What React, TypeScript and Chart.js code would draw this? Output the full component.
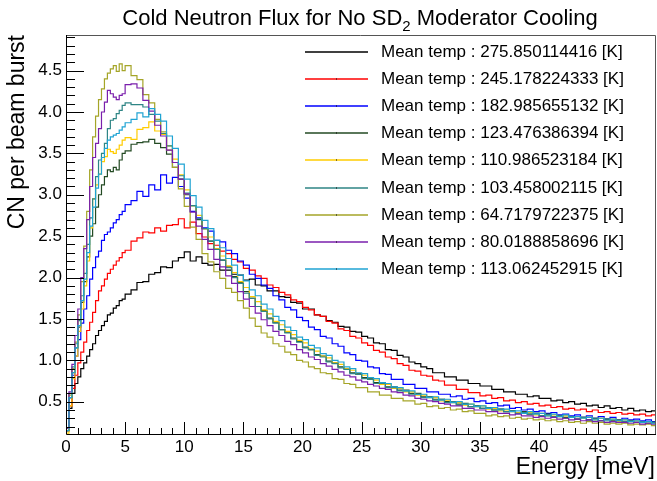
import React, { useEffect, useRef } from "react";
import { Chart, registerables } from "chart.js";

Chart.register(...registerables);

// Histogram binning (meV): 20 fine bins of 0.25 meV (0-5 meV), then 90 bins of 0.5 meV (5-50 meV)
const FINE_BINS = 20;
const FINE_WIDTH = 0.25;
const COARSE_WIDTH = 0.5;

const seriesLabels = [
  "Mean temp : 275.850114416 [K]",
  "Mean temp : 245.178224333 [K]",
  "Mean temp : 182.985655132 [K]",
  "Mean temp : 123.476386394 [K]",
  "Mean temp : 110.986523184 [K]",
  "Mean temp : 103.458002115 [K]",
  "Mean temp : 64.7179722375 [K]",
  "Mean temp : 80.0188858696 [K]",
  "Mean temp : 113.062452915 [K]",
];

const seriesColors = [
  "#000000",
  "#ff0000",
  "#0000ff",
  "#234a23",
  "#ffcc00",
  "#2e8585",
  "#a5a528",
  "#7a1fac",
  "#1fa3d3",
];

const temp275 = [
  0.15, 0.42, 0.60, 0.72, 0.80, 0.90, 0.97, 1.05, 1.13, 1.20,
  1.30, 1.36, 1.42, 1.47, 1.55, 1.57, 1.63, 1.66, 1.72, 1.74,
  1.80, 1.85, 1.94, 1.95, 2.04, 2.06, 2.13, 2.12, 2.20, 2.24,
  2.31, 2.20, 2.25, 2.17, 2.15, 2.16, 2.09, 2.09, 2.04, 2.03,
  1.97, 1.98, 1.91, 1.90, 1.84, 1.84, 1.77, 1.76, 1.70, 1.69,
  1.62, 1.62, 1.55, 1.53, 1.48, 1.46, 1.41, 1.40, 1.35, 1.34,
  1.29, 1.27, 1.21, 1.20, 1.13, 1.12, 1.06, 1.04, 0.98, 0.96,
  0.92, 0.90, 0.85, 0.85, 0.80, 0.80, 0.76, 0.76, 0.72, 0.72,
  0.69, 0.69, 0.65, 0.65, 0.62, 0.62, 0.59, 0.59, 0.56, 0.57,
  0.54, 0.54, 0.51, 0.52, 0.49, 0.50, 0.47, 0.48, 0.45, 0.46,
  0.43, 0.45, 0.42, 0.43, 0.40, 0.42, 0.39, 0.40, 0.38, 0.39,
];

const temp245 = [
  0.15, 0.45, 0.66, 0.82, 0.97, 1.10, 1.22, 1.36, 1.46, 1.58,
  1.72, 1.84, 1.90, 1.98, 2.05, 2.10, 2.15, 2.20, 2.24, 2.30,
  2.33, 2.44, 2.48, 2.55, 2.54, 2.60, 2.56, 2.63, 2.64, 2.71,
  2.60, 2.67, 2.53, 2.49, 2.41, 2.39, 2.32, 2.29, 2.22, 2.19,
  2.11, 2.09, 2.02, 1.99, 1.91, 1.88, 1.82, 1.79, 1.73, 1.71,
  1.64, 1.61, 1.55, 1.53, 1.47, 1.45, 1.38, 1.36, 1.29, 1.27,
  1.21, 1.18, 1.12, 1.10, 1.04, 1.02, 0.96, 0.94, 0.88, 0.87,
  0.82, 0.81, 0.76, 0.75, 0.70, 0.70, 0.65, 0.65, 0.61, 0.61,
  0.57, 0.58, 0.54, 0.55, 0.51, 0.52, 0.49, 0.50, 0.47, 0.48,
  0.45, 0.46, 0.43, 0.44, 0.41, 0.42, 0.40, 0.41, 0.38, 0.40,
  0.37, 0.38, 0.36, 0.37, 0.35, 0.36, 0.34, 0.35, 0.33, 0.34,
];

const temp183 = [
  0.18, 0.55, 0.82, 1.05, 1.25, 1.45, 1.62, 1.78, 1.98, 2.12,
  2.25, 2.32, 2.45, 2.52, 2.55, 2.60, 2.66, 2.70, 2.76, 2.80,
  2.88, 2.93, 3.04, 2.98, 3.12, 3.06, 3.24, 3.14, 3.21, 3.10,
  2.96, 2.80, 2.72, 2.60, 2.56, 2.45, 2.43, 2.33, 2.29, 2.20,
  2.15, 2.04, 1.99, 1.91, 1.87, 1.78, 1.73, 1.64, 1.61, 1.52,
  1.48, 1.40, 1.37, 1.29, 1.27, 1.20, 1.17, 1.09, 1.07, 1.00,
  0.99, 0.92, 0.91, 0.84, 0.83, 0.77, 0.77, 0.71, 0.71, 0.66,
  0.66, 0.62, 0.62, 0.59, 0.59, 0.56, 0.57, 0.53, 0.54, 0.50,
  0.51, 0.48, 0.49, 0.45, 0.46, 0.42, 0.43, 0.40, 0.41, 0.38,
  0.39, 0.36, 0.37, 0.34, 0.35, 0.33, 0.34, 0.31, 0.33, 0.30,
  0.32, 0.29, 0.31, 0.28, 0.30, 0.28, 0.29, 0.27, 0.28, 0.26,
];

const temp123 = [
  0.15, 0.55, 0.85, 1.15, 1.40, 1.70, 1.95, 2.25, 2.50, 2.65,
  2.85, 3.00, 3.12, 3.22, 3.30, 3.28, 3.33, 3.30, 3.42, 3.50,
  3.53, 3.61, 3.63, 3.64, 3.67, 3.62, 3.57, 3.49, 3.33, 3.19,
  3.00, 2.87, 2.70, 2.59, 2.44, 2.34, 2.21, 2.13, 2.01, 1.94,
  1.83, 1.75, 1.65, 1.60, 1.51, 1.46, 1.37, 1.34, 1.27, 1.23,
  1.16, 1.13, 1.07, 1.05, 0.99, 0.97, 0.92, 0.90, 0.85, 0.84,
  0.79, 0.78, 0.73, 0.73, 0.68, 0.68, 0.64, 0.64, 0.60, 0.60,
  0.56, 0.56, 0.53, 0.53, 0.50, 0.50, 0.47, 0.48, 0.44, 0.45,
  0.42, 0.43, 0.40, 0.41, 0.38, 0.39, 0.36, 0.38, 0.35, 0.36,
  0.33, 0.35, 0.32, 0.33, 0.31, 0.32, 0.29, 0.31, 0.28, 0.30,
  0.27, 0.29, 0.27, 0.28, 0.26, 0.27, 0.25, 0.26, 0.24, 0.25,
];

const temp111 = [
  0.12, 0.45, 0.78, 1.05, 1.35, 1.62, 1.90, 2.20, 2.60, 2.95,
  3.12, 3.25, 3.40, 3.46, 3.55, 3.52, 3.50, 3.55, 3.60, 3.66,
  3.69, 3.67, 3.79, 3.81, 3.88, 3.77, 3.73, 3.59, 3.43, 3.24,
  3.06, 2.87, 2.75, 2.59, 2.49, 2.35, 2.26, 2.14, 2.06, 1.95,
  1.88, 1.77, 1.71, 1.61, 1.56, 1.47, 1.43, 1.35, 1.31, 1.24,
  1.21, 1.14, 1.11, 1.05, 1.03, 0.97, 0.95, 0.90, 0.88, 0.83,
  0.82, 0.77, 0.76, 0.71, 0.71, 0.66, 0.66, 0.62, 0.62, 0.58,
  0.58, 0.55, 0.55, 0.51, 0.52, 0.49, 0.49, 0.46, 0.47, 0.44,
  0.45, 0.41, 0.42, 0.39, 0.40, 0.38, 0.37, 0.36, 0.37, 0.34,
  0.36, 0.33, 0.34, 0.32, 0.33, 0.31, 0.32, 0.30, 0.31, 0.28,
  0.30, 0.27, 0.29, 0.26, 0.28, 0.26, 0.27, 0.25, 0.26, 0.24,
];

const temp103 = [
  0.18, 0.60, 0.92, 1.20, 1.48, 1.78, 2.05, 2.40, 2.72, 2.95,
  3.22, 3.42, 3.50, 3.62, 3.80, 3.90, 3.92, 3.98, 4.02, 4.08,
  4.11, 4.09, 4.09, 4.06, 3.97, 3.89, 3.74, 3.59, 3.39, 3.23,
  3.02, 2.87, 2.71, 2.59, 2.44, 2.34, 2.21, 2.12, 2.00, 1.93,
  1.81, 1.75, 1.65, 1.59, 1.50, 1.45, 1.37, 1.33, 1.26, 1.22,
  1.15, 1.13, 1.06, 1.04, 0.98, 0.96, 0.91, 0.89, 0.84, 0.83,
  0.78, 0.77, 0.72, 0.72, 0.67, 0.67, 0.63, 0.63, 0.59, 0.59,
  0.55, 0.56, 0.52, 0.53, 0.49, 0.50, 0.46, 0.47, 0.44, 0.45,
  0.42, 0.43, 0.40, 0.41, 0.38, 0.39, 0.36, 0.37, 0.35, 0.36,
  0.33, 0.34, 0.32, 0.33, 0.30, 0.32, 0.29, 0.31, 0.28, 0.30,
  0.27, 0.29, 0.26, 0.28, 0.26, 0.27, 0.25, 0.26, 0.24, 0.25,
];

const temp65 = [
  0.18, 0.58, 0.90, 1.22, 1.55, 1.95, 2.38, 2.80, 3.30, 3.70,
  3.95, 4.15, 4.28, 4.40, 4.47, 4.52, 4.56, 4.49, 4.58, 4.50,
  4.56, 4.44, 4.39, 4.21, 4.11, 3.91, 3.76, 3.54, 3.33, 3.07,
  2.86, 2.61, 2.46, 2.29, 2.19, 2.07, 1.99, 1.87, 1.82, 1.72,
  1.63, 1.51, 1.41, 1.33, 1.28, 1.20, 1.17, 1.10, 1.07, 1.00,
  0.98, 0.92, 0.90, 0.85, 0.84, 0.78, 0.77, 0.72, 0.71, 0.67,
  0.67, 0.62, 0.62, 0.58, 0.58, 0.54, 0.54, 0.51, 0.51, 0.47,
  0.48, 0.44, 0.45, 0.42, 0.43, 0.40, 0.41, 0.38, 0.39, 0.36,
  0.36, 0.33, 0.34, 0.32, 0.33, 0.30, 0.31, 0.29, 0.30, 0.28,
  0.29, 0.27, 0.28, 0.26, 0.27, 0.25, 0.26, 0.24, 0.26, 0.24,
  0.25, 0.23, 0.24, 0.23, 0.24, 0.22, 0.23, 0.22, 0.23, 0.21,
];

const temp80 = [
  0.18, 0.62, 0.95, 1.30, 1.62, 2.00, 2.35, 2.70, 3.10, 3.45,
  3.62, 3.80, 4.00, 4.12, 4.26, 4.22, 4.18, 4.15, 4.20, 4.22,
  4.33, 4.34, 4.29, 4.14, 4.01, 3.84, 3.71, 3.54, 3.39, 3.19,
  3.01, 2.79, 2.62, 2.46, 2.34, 2.22, 2.13, 2.02, 1.93, 1.83,
  1.74, 1.65, 1.57, 1.49, 1.42, 1.35, 1.30, 1.23, 1.19, 1.13,
  1.09, 1.04, 1.01, 0.96, 0.93, 0.89, 0.86, 0.82, 0.80, 0.76,
  0.74, 0.71, 0.69, 0.66, 0.65, 0.62, 0.61, 0.58, 0.57, 0.54,
  0.53, 0.51, 0.50, 0.48, 0.47, 0.45, 0.45, 0.42, 0.42, 0.40,
  0.40, 0.38, 0.38, 0.36, 0.36, 0.34, 0.35, 0.33, 0.33, 0.31,
  0.32, 0.30, 0.31, 0.29, 0.30, 0.28, 0.29, 0.27, 0.28, 0.26,
  0.27, 0.25, 0.26, 0.25, 0.25, 0.24, 0.25, 0.23, 0.24, 0.23,
];

const temp113 = [
  0.15, 0.55, 0.85, 1.15, 1.42, 1.72, 1.98, 2.30, 2.62, 2.85,
  3.08, 3.25, 3.45, 3.56, 3.66, 3.70, 3.72, 3.74, 3.78, 3.82,
  3.87, 3.91, 3.99, 3.94, 4.04, 3.97, 3.89, 3.71, 3.56, 3.37,
  3.19, 2.99, 2.85, 2.69, 2.59, 2.45, 2.36, 2.23, 2.15, 2.03,
  1.96, 1.85, 1.78, 1.68, 1.62, 1.53, 1.48, 1.40, 1.36, 1.28,
  1.25, 1.18, 1.15, 1.08, 1.06, 1.00, 0.98, 0.92, 0.90, 0.85,
  0.84, 0.79, 0.78, 0.73, 0.72, 0.68, 0.67, 0.63, 0.63, 0.59,
  0.59, 0.55, 0.56, 0.52, 0.53, 0.49, 0.50, 0.47, 0.47, 0.44,
  0.45, 0.42, 0.43, 0.40, 0.41, 0.38, 0.39, 0.36, 0.38, 0.35,
  0.36, 0.33, 0.35, 0.32, 0.34, 0.31, 0.32, 0.30, 0.31, 0.28,
  0.30, 0.27, 0.29, 0.27, 0.28, 0.26, 0.27, 0.25, 0.26, 0.24,
];

const seriesValues = [temp275, temp245, temp183, temp123, temp111, temp103, temp65, temp80, temp113];

const xTickValues = [0, 5, 10, 15, 20, 25, 30, 35, 40, 45];
const yTickValues = [0.5, 1.0, 1.5, 2.0, 2.5, 3.0, 3.5, 4.0, 4.5];

const X_MIN = 0;
const X_MAX = 49.8;
const Y_MIN = 0.11;
const Y_MAX = 4.93;

const FONT = "'Liberation Sans', Arial, Helvetica, sans-serif";

function binLowEdge(i: number) {
  return i < FINE_BINS ? i * FINE_WIDTH : FINE_BINS * FINE_WIDTH + (i - FINE_BINS) * COARSE_WIDTH;
}

function histPoints(values: number[]) {
  const pts = values.map((v, i) => ({ x: binLowEdge(i), y: v }));
  pts.push({ x: binLowEdge(values.length), y: values[values.length - 1] });
  return pts;
}

const rootStylePlugin = {
  id: "rootStyle",
  afterDatasetsDraw(chart: any) {
    const { ctx, chartArea } = chart;
    const xs = chart.scales.x;
    const ys = chart.scales.y;
    const { left, right, top, bottom } = chartArea;
    ctx.save();
    // frame
    ctx.lineWidth = 1;
    ctx.strokeStyle = "#555555";
    ctx.beginPath();
    ctx.moveTo(left, top + 0.5);
    ctx.lineTo(right + 0.5, top + 0.5);
    ctx.lineTo(right + 0.5, bottom);
    ctx.stroke();
    ctx.strokeStyle = "#000000";
    ctx.beginPath();
    ctx.moveTo(left + 0.5, top);
    ctx.lineTo(left + 0.5, bottom + 0.5);
    ctx.lineTo(right + 1, bottom + 0.5);
    ctx.stroke();
    // x ticks (inward)
    ctx.beginPath();
    for (let v = 0; v <= X_MAX; v += 1) {
      const px = Math.round(xs.getPixelForValue(v)) + 0.5;
      const len = v % 5 === 0 ? 12 : 6;
      ctx.moveTo(px, bottom);
      ctx.lineTo(px, bottom - len);
    }
    // y ticks (inward)
    for (let k = 2; k <= 49; k++) {
      const v = k / 10;
      if (v < Y_MIN || v > Y_MAX) continue;
      const py = Math.round(ys.getPixelForValue(v)) + 0.5;
      const len = k % 5 === 0 ? 18 : 9;
      ctx.moveTo(left, py);
      ctx.lineTo(left + len, py);
    }
    ctx.stroke();

    // legend
    ctx.font = `17px ${FONT}`;
    ctx.textBaseline = "middle";
    ctx.textAlign = "left";
    seriesLabels.forEach((label, i) => {
      const y = Math.round(52 + i * 27.1);
      ctx.strokeStyle = seriesColors[i];
      ctx.lineWidth = 1.5;
      ctx.beginPath();
      ctx.moveTo(305, y);
      ctx.lineTo(368, y);
      ctx.stroke();
      if (i > 0) {
        ctx.fillStyle = "#000000";
        ctx.fillRect(336, y - 0.5, 1, 1);
      }
      ctx.fillStyle = "#000000";
      ctx.fillText(label, 381, y);
    });

    // main title with subscript
    const t1 = "Cold Neutron Flux for No SD";
    const t2 = "2";
    const t3 = " Moderator Cooling";
    ctx.font = `22px ${FONT}`;
    const w1 = ctx.measureText(t1).width;
    const w3 = ctx.measureText(t3).width;
    ctx.font = `15px ${FONT}`;
    const w2 = ctx.measureText(t2).width;
    const total = w1 + w2 + w3;
    const x0 = 360 - total / 2;
    ctx.textBaseline = "alphabetic";
    ctx.fillStyle = "#000000";
    ctx.font = `22px ${FONT}`;
    ctx.fillText(t1, x0, 25);
    ctx.font = `15px ${FONT}`;
    ctx.fillText(t2, x0 + w1, 31);
    ctx.font = `22px ${FONT}`;
    ctx.fillText(t3, x0 + w1 + w2, 25);
    ctx.restore();
  },
};

export default function App() {
  const canvasRef = useRef<HTMLCanvasElement | null>(null);

  useEffect(() => {
    document.body.style.margin = "0";
    const canvas = canvasRef.current;
    if (!canvas) return;
    const datasets = seriesValues.map((vals, i) => ({
      label: seriesLabels[i],
      data: histPoints(vals),
      borderColor: seriesColors[i],
      backgroundColor: seriesColors[i],
      borderWidth: 1.2,
      pointRadius: 0,
      stepped: "before" as const,
      fill: false,
      order: seriesValues.length - i,
    }));
    const chart = new Chart(canvas, {
      type: "line",
      data: { datasets },
      options: {
        animation: false,
        responsive: false,
        devicePixelRatio: 1,
        layout: { padding: { top: 35, right: 2, left: 0, bottom: 0 } },
        plugins: {
          legend: { display: false },
          tooltip: { enabled: false },
          title: { display: false },
        },
        scales: {
          x: {
            type: "linear",
            min: X_MIN,
            max: X_MAX,
            afterBuildTicks: (s: any) => {
              s.ticks = xTickValues.map((v) => ({ value: v }));
            },
            afterFit: (s: any) => {
              s.height = 47;
            },
            grid: { display: false, drawTicks: false },
            border: { display: false },
            ticks: {
              color: "#000000",
              font: { family: FONT, size: 17 },
              padding: 3,
              maxRotation: 0,
              autoSkip: false,
              callback: (v: any) => String(v),
            },
            title: {
              display: true,
              text: "Energy [meV]",
              align: "end",
              color: "#000000",
              font: { family: FONT, size: 23 },
              padding: { top: 0, bottom: 0 },
            },
          },
          y: {
            type: "linear",
            min: Y_MIN,
            max: Y_MAX,
            afterBuildTicks: (s: any) => {
              s.ticks = yTickValues.map((v) => ({ value: v }));
            },
            afterFit: (s: any) => {
              s.width = 66;
            },
            grid: { display: false, drawTicks: false },
            border: { display: false },
            ticks: {
              color: "#000000",
              font: { family: FONT, size: 17 },
              padding: 4,
              autoSkip: false,
              callback: (v: any) => Number(v).toFixed(1),
            },
            title: {
              display: true,
              text: "CN per beam burst",
              align: "end",
              color: "#000000",
              font: { family: FONT, size: 23 },
              padding: { top: 4, bottom: 0 },
            },
          },
        },
      },
      plugins: [rootStylePlugin],
    });
    return () => chart.destroy();
  }, []);

  return (
    <div style={{ position: "absolute", left: 0, top: 0, width: 657, height: 481 }}>
      <canvas ref={canvasRef} width={657} height={481} style={{ width: 657, height: 481 }} />
    </div>
  );
}
